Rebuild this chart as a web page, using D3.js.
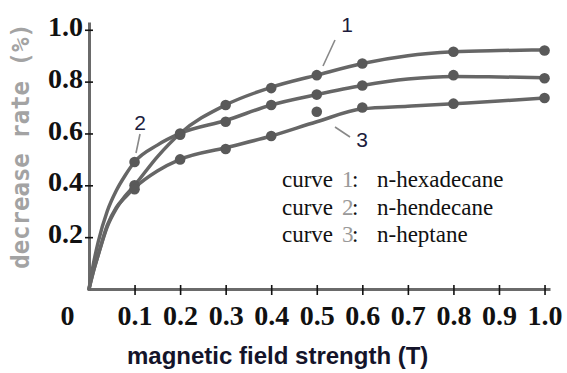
<!DOCTYPE html>
<html>
<head>
<meta charset="utf-8">
<script src="https://cdn.jsdelivr.net/npm/d3@7"></script>
<style>
  body { margin: 0; background: #fff; }
  svg { display: block; }
</style>
</head>
<body>
<div id="wrapper"></div>
<script>
// measured points (dots)
var fieldStrength = [0.1, 0.2, 0.3, 0.4, 0.5, 0.6, 0.8, 1.0]
var hexadecane = [0.40, 0.60, 0.71, 0.775, 0.825, 0.87, 0.915, 0.92]
var hendecane  = [0.49, 0.595, 0.645, 0.71, 0.75, 0.785, 0.825, 0.813]
var heptane    = [0.385, 0.50, 0.54, 0.59, 0.684, 0.70, 0.715, 0.737]

// fitted curves
var fitX = [0, 0.01, 0.02, 0.04, 0.06, 0.08, 0.1, 0.15, 0.2, 0.3, 0.4, 0.5, 0.6, 0.7, 0.8, 0.9, 1.0]
var fitHexadecane = [0, 0.07, 0.13, 0.24, 0.31, 0.36, 0.40, 0.51, 0.60, 0.71, 0.778, 0.825, 0.87, 0.90, 0.915, 0.92, 0.922]
var fitHendecane  = [0, 0.10, 0.18, 0.30, 0.38, 0.44, 0.49, 0.555, 0.60, 0.65, 0.71, 0.75, 0.785, 0.81, 0.82, 0.818, 0.815]
var fitHeptane    = [0, 0.07, 0.13, 0.245, 0.315, 0.355, 0.39, 0.455, 0.50, 0.545, 0.59, 0.645, 0.695, 0.705, 0.715, 0.725, 0.737]

var xTicks = [0, 0.1, 0.2, 0.3, 0.4, 0.5, 0.6, 0.7, 0.8, 0.9, 1.0]
var xTickLabels = ["0", "0.1", "0.2", "0.3", "0.4", "0.5", "0.6", "0.7", "0.8", "0.9", "1.0"]
var yTicks = [0.2, 0.4, 0.6, 0.8, 1.0]
var yTickLabels = ["0.2", "0.4", "0.6", "0.8", "1.0"]

var curveNames = ["n-hexadecane", "n-hendecane", "n-heptane"]
var curveNumbers = ["1", "2", "3"]

var width = 567, height = 373

const svg = d3.select("#wrapper")
    .append("svg")
    .attr("width", width)
    .attr("height", height)

var xScale = d3.scaleLinear()
    .domain([0, 1.012])
    .range([89, 550])

var yScale = d3.scaleLinear()
    .domain([0, 1.03])
    .range([289, 22])

var serif = "'Liberation Serif', 'Times New Roman', serif"

// x axis
var xAxis = svg.append("g")
    .attr("transform", "translate(0,289)")
    .call(d3.axisBottom(xScale)
        .tickValues(xTicks)
        .tickFormat((d, i) => xTickLabels[i])
        .tickSizeOuter(0))
xAxis.select(".domain").attr("stroke", "#6a6a6a").attr("stroke-width", 3)
xAxis.selectAll(".tick line")
    .attr("y1", -4).attr("y2", 6)
    .attr("stroke", "#111").attr("stroke-width", 1.6)
    .filter(d => d == 0).remove()
xAxis.selectAll(".tick text")
    .attr("y", 36).attr("dy", 0)
    .attr("dx", d => d == 0 ? -22 : 0)
    .style("font-family", serif)
    .style("font-weight", "bold")
    .style("font-size", "28px")
    .attr("fill", "#111")

// y axis
var yAxis = svg.append("g")
    .attr("transform", "translate(89,0)")
    .call(d3.axisLeft(yScale)
        .tickValues(yTicks)
        .tickFormat((d, i) => yTickLabels[i])
        .tickSizeOuter(0))
yAxis.select(".domain").attr("stroke", "#6a6a6a").attr("stroke-width", 3)
yAxis.selectAll(".tick line")
    .attr("x1", -4).attr("x2", 4)
    .attr("stroke", "#111").attr("stroke-width", 1.6)
yAxis.selectAll(".tick text")
    .attr("x", -6).attr("dy", "0.2em")
    .style("font-family", serif)
    .style("font-weight", "bold")
    .style("font-size", "28px")
    .attr("fill", "#111")

// axis titles
svg.append("text")
    .attr("x", 127).attr("y", 364)
    .text("magnetic field strength (T)")
    .style("font-family", "'Liberation Sans', Arial, sans-serif")
    .style("font-weight", "bold")
    .style("font-size", "24px")
    .attr("fill", "#14142a")

svg.append("text")
    .attr("transform", "translate(29,146) rotate(-90)")
    .attr("text-anchor", "middle")
    .text("decrease rate (%)")
    .style("font-family", "'DejaVu Sans Mono', monospace")
    .style("font-weight", "bold")
    .style("font-size", "24px")
    .attr("fill", "#a3a3a3")

// curves
var lineGenerator = d3.line()
    .x(d => xScale(d[0]))
    .y(d => yScale(d[1]))
    .curve(d3.curveMonotoneX)

var fits = [fitHexadecane, fitHendecane, fitHeptane]
var points = [hexadecane, hendecane, heptane]

fits.forEach(function (f) {
    svg.append("path")
        .attr("d", lineGenerator(fitX.map((x, i) => [x, f[i]])))
        .attr("fill", "none")
        .attr("stroke", "#666")
        .attr("stroke-width", 3.5)
        .attr("stroke-linecap", "round")
})

points.forEach(function (p) {
    svg.append("g").selectAll("circle")
        .data(fieldStrength.map((x, i) => [x, p[i]]))
        .join("circle")
        .attr("cx", d => xScale(d[0]))
        .attr("cy", d => yScale(d[1]))
        .attr("r", 5.3)
        .attr("fill", "#595959")
})

// curve number callouts
var callouts = [
    { label: "1", tx: 347, ty: 32, line: [[335, 40], [323, 66]] },
    { label: "2", tx: 140, ty: 130, line: [[140, 134], [136, 153]] },
    { label: "3", tx: 362, ty: 147, line: [[335, 127], [350, 137]] }
]
callouts.forEach(function (c) {
    svg.append("line")
        .attr("x1", c.line[0][0]).attr("y1", c.line[0][1])
        .attr("x2", c.line[1][0]).attr("y2", c.line[1][1])
        .attr("stroke", "#888").attr("stroke-width", 1.6)
    svg.append("text")
        .attr("x", c.tx).attr("y", c.ty)
        .attr("text-anchor", "middle")
        .text(c.label)
        .style("font-family", "'Liberation Sans', Arial, sans-serif")
        .style("font-size", "21px")
        .attr("fill", "#1c1c3c")
})

// legend
var legendBase = [187, 215, 242]
curveNames.forEach(function (name, i) {
    var row = svg.append("g")
    var parts = [
        { x: 282, t: "curve", c: "#111" },
        { x: 342, t: curveNumbers[i], c: "#999" },
        { x: 352, t: ":", c: "#111" },
        { x: 377, t: name, c: "#111" }
    ]
    parts.forEach(function (p) {
        row.append("text")
            .attr("x", p.x).attr("y", legendBase[i])
            .text(p.t)
            .attr("fill", p.c)
            .style("font-family", serif)
            .style("font-size", "23px")
    })
})
</script>
</body>
</html>
